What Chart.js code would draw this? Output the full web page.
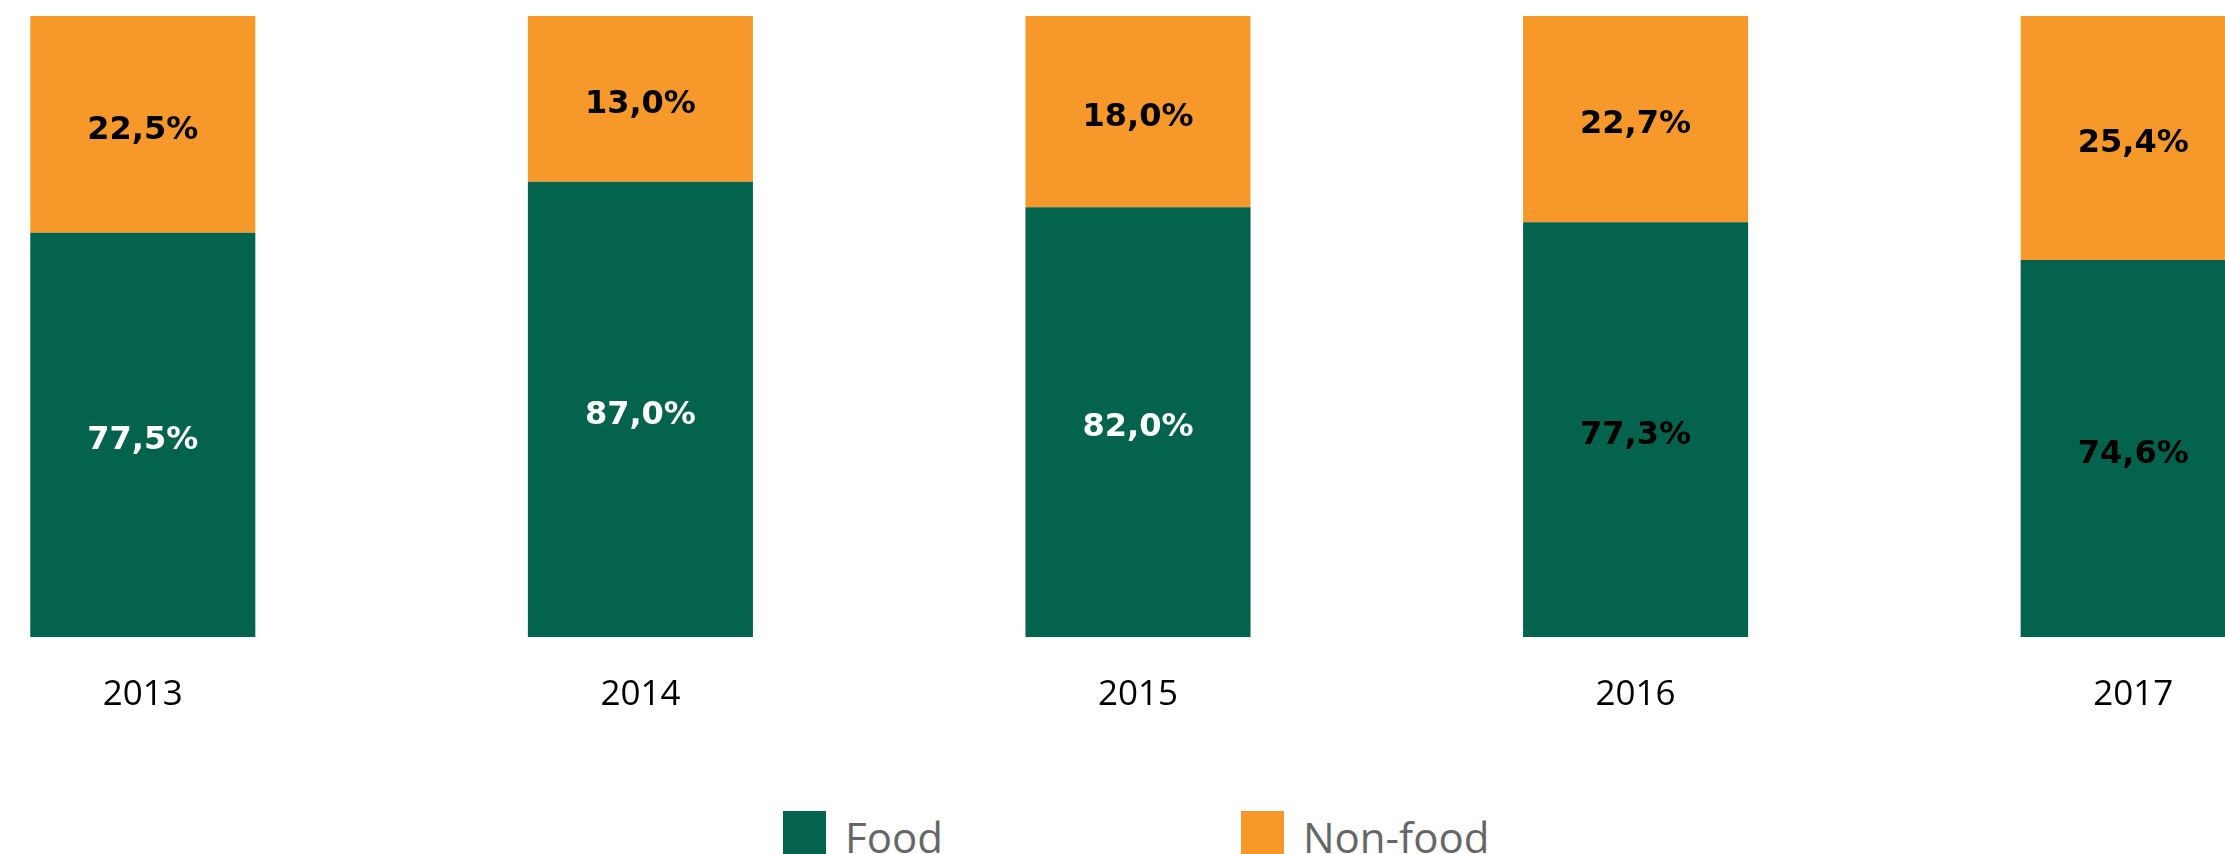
<!DOCTYPE html>
<html>
<head>
<meta charset="utf-8">
<script src="https://cdn.jsdelivr.net/npm/chart.js@4"></script>
<style>
  html, body { margin: 0; padding: 0; background: #fff; overflow: hidden; width: 2225px; height: 854px; }
  #chart { position: absolute; left: -106px; top: 0; }
  #legend { position: absolute; left: 783px; top: 811px; display: flex; gap: 298px; }
  #legend .item { display: flex; align-items: flex-start; }
  #legend .box { width: 43px; height: 43px; margin-right: 19px; }
  #legend .txt { font: 42px "Open Sans", sans-serif; color: #666; line-height: 43px; margin-top: 4px; white-space: nowrap; }
</style>
</head>
<body>
<canvas id="chart" width="2488" height="753"></canvas>
<div id="legend"></div>
<script>
// years on the x axis
const anni = ["2013", "2014", "2015", "2016", "2017"];
// printed shares (%)
const quotaFood = [77.5, 87.0, 82.0, 77.3, 74.6];
const quotaNonFood = [22.5, 13.0, 18.0, 22.7, 25.4];
// segment heights as drawn in the picture (% of bar)
const altezzaFood = [65.1, 73.3, 69.2, 66.8, 60.7];
const altezzaNonFood = [34.9, 26.7, 30.8, 33.2, 39.3];

const verde = "#03634d",
  arancio = "#f7992a",
  coloreTestoFood = ["#fff", "#fff", "#fff", "#000", "#000"];

const formatta = (v) => v.toFixed(1).replace(".", ",") + "%";

const etichette = {
  id: "etichette",
  afterDatasetsDraw(chart) {
    const ctx = chart.ctx;
    ctx.save();
    ctx.font = 'bold 32px "DejaVu Sans"';
    ctx.textAlign = "center";
    ctx.textBaseline = "middle";
    chart.data.datasets.forEach((ds, i) => {
      chart.getDatasetMeta(i).data.forEach((bar, j) => {
        const { x, y, base } = bar.getProps(["x", "y", "base"], true);
        ctx.fillStyle = i === 0 ? coloreTestoFood[j] : "#000";
        ctx.fillText(formatta(ds.quote[j]), x, (y + base) / 2 + 6);
      });
    });
    ctx.restore();
  },
};

const dati = {
  labels: anni,
  datasets: [
    { label: "Food", data: altezzaFood, quote: quotaFood, backgroundColor: verde },
    { label: "Non-food", data: altezzaNonFood, quote: quotaNonFood, backgroundColor: arancio },
  ],
};

const config = {
  type: "bar",
  data: dati,
  options: {
    responsive: false,
    animation: false,
    layout: { padding: { top: 16, left: 0, right: 0, bottom: 0 } },
    datasets: { bar: { categoryPercentage: 1, barPercentage: 0.4523, borderWidth: 0 } },
    scales: {
      x: {
        stacked: true,
        grid: { display: false, drawTicks: false },
        border: { display: false },
        ticks: { color: "#000", padding: 37, font: { family: "Open Sans", size: 35 } },
      },
      y: { stacked: true, display: false, min: 0, max: 100 },
    },
    plugins: { legend: { display: false }, tooltip: { enabled: false } },
  },
  plugins: [etichette],
};

const grafico = new Chart(document.getElementById("chart").getContext("2d"), config);

document.getElementById("legend").innerHTML = grafico.data.datasets
  .map(
    (ds) => `
    <div class="item">
      <div class="box" style="background:${ds.backgroundColor}"></div>
      <div class="txt">${ds.label}</div>
    </div>`
  )
  .join("");
</script>
</body>
</html>
